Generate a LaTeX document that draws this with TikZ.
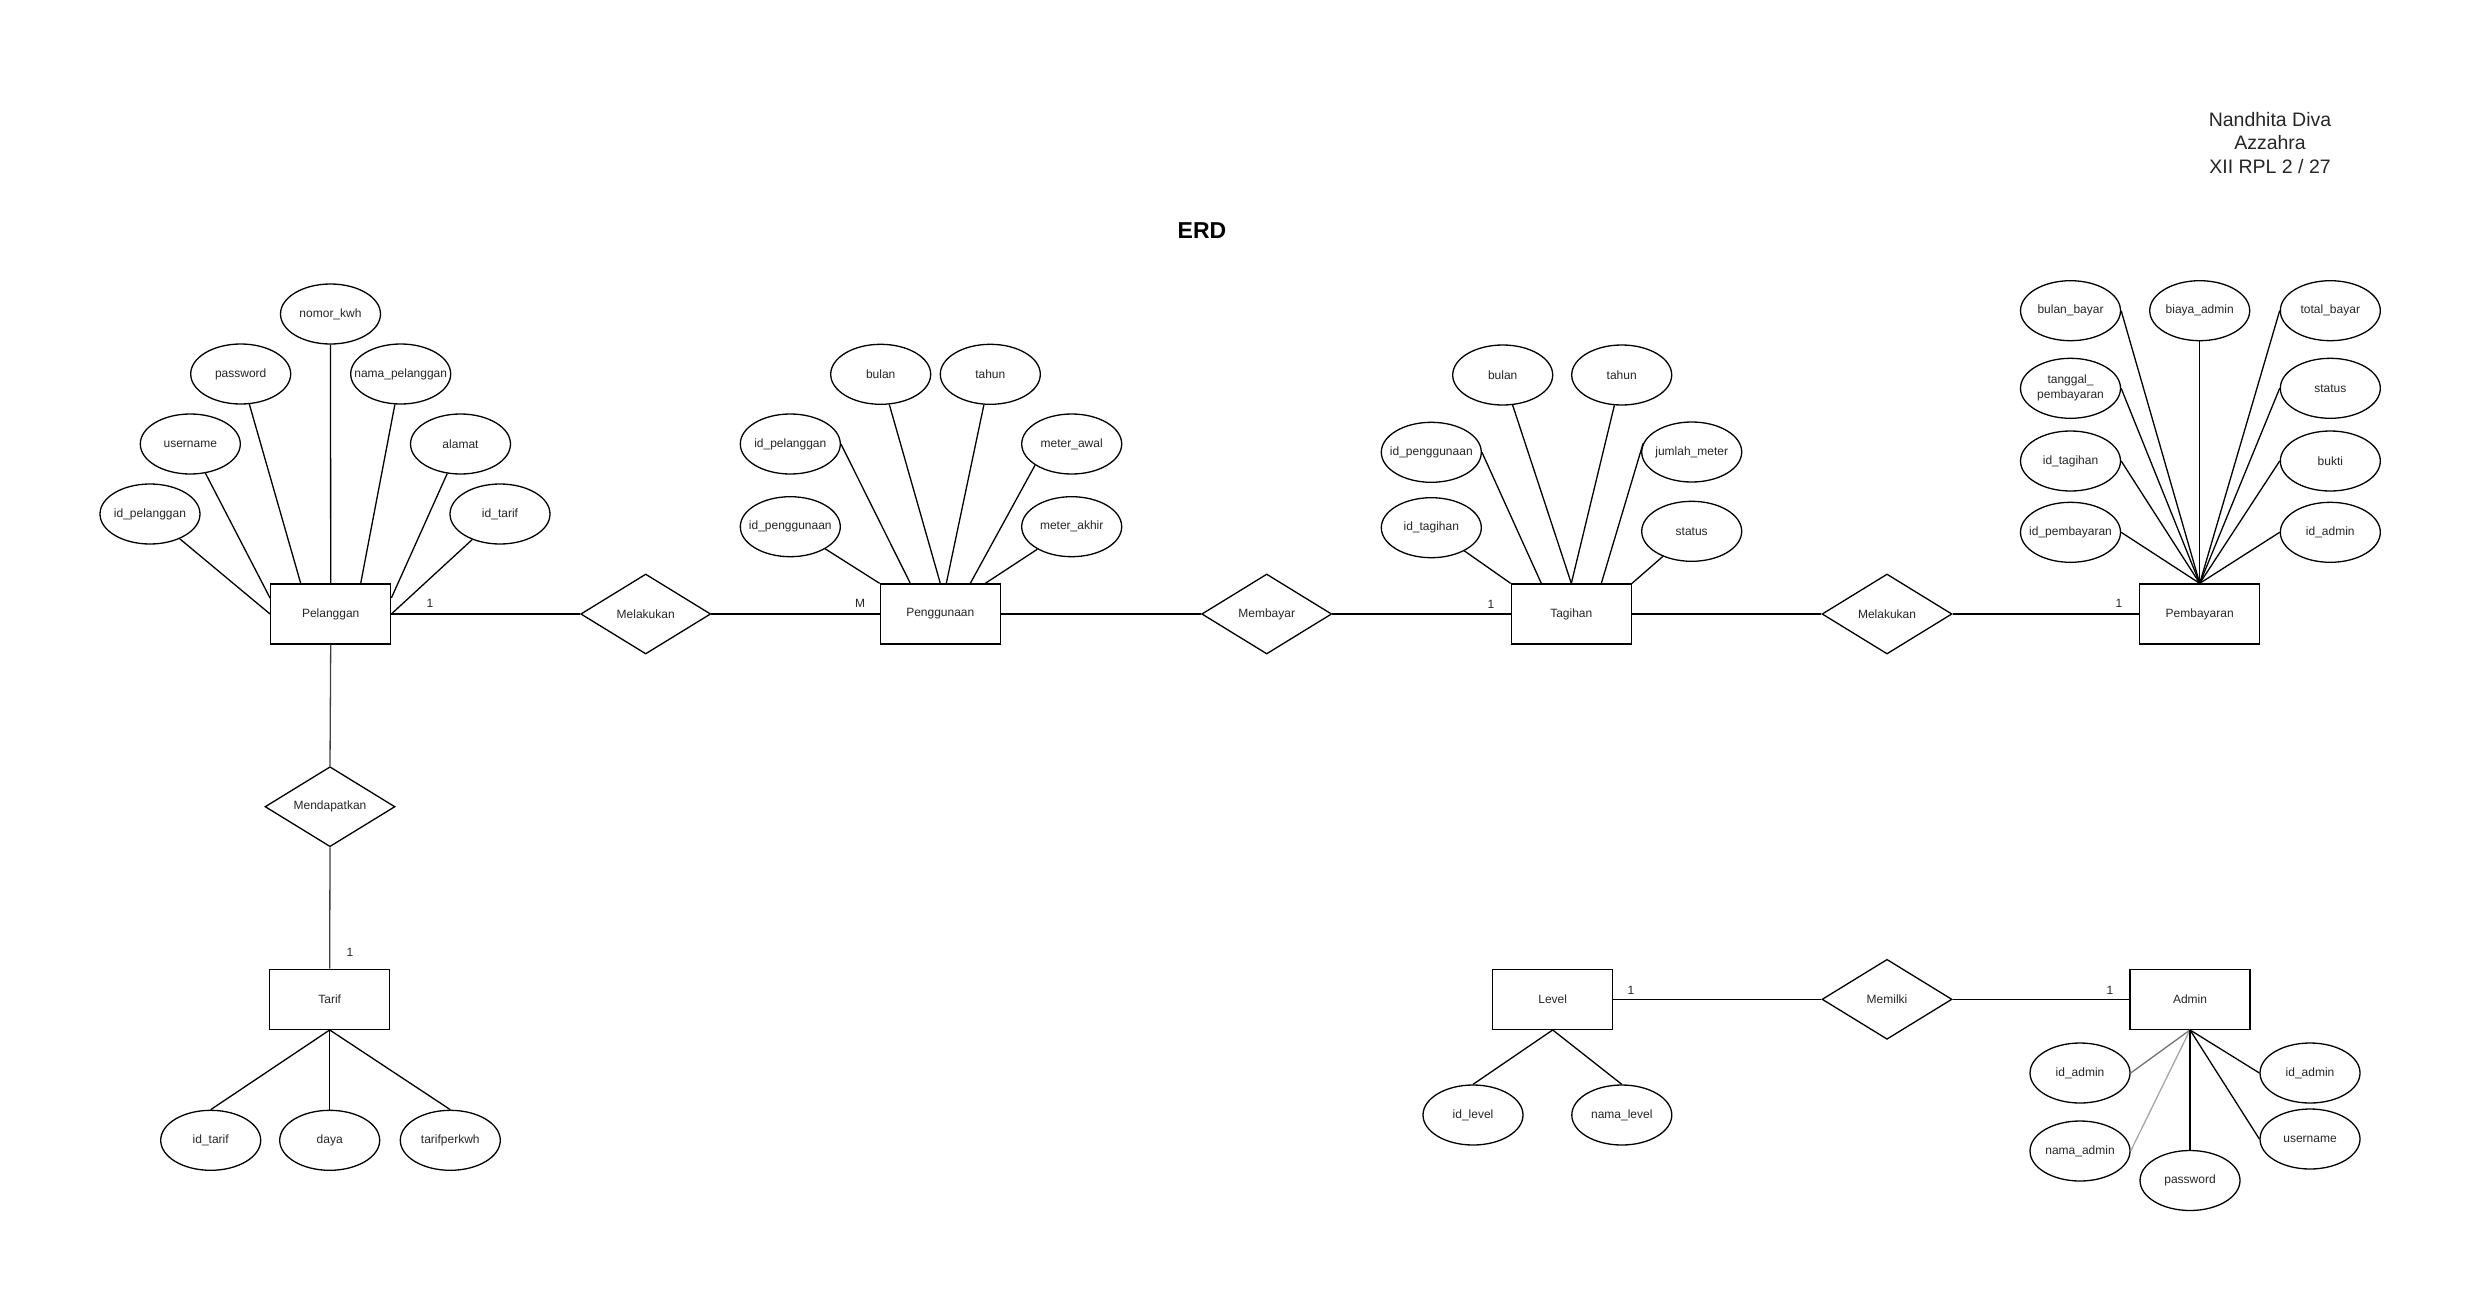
\documentclass[tikz,border=0pt]{standalone}
\usepackage{fontspec}
\setmainfont{Liberation Sans}
\usetikzlibrary{shapes.geometric}
\newcommand\zb[1]{\makebox[0pt]{#1}}
\begin{document}
\begin{tikzpicture}[x=1pt,y=-1pt,
  every node/.style={font=\fontsize{12}{14.4}\selectfont, text=black!85},
  ent/.style={draw=black, rectangle, minimum width=120pt, minimum height=60pt, inner sep=0pt, line width=1.3pt},
  attr/.style={draw=black, ellipse, minimum width=100pt, minimum height=60pt, inner sep=0pt, line width=1.3pt},
  rel/.style={draw=black, diamond, minimum width=130pt, minimum height=80pt, inner sep=0pt, line width=1.3pt},
  ln/.style={line width=1.3pt, draw=black},
  lng/.style={line width=1.3pt, draw=black!75},
  card/.style={inner sep=0pt},
]
\fill[white] (0,0) rectangle (2491,1311);
\useasboundingbox (0,0) rectangle (2491,1311);

% titles
\node[font=\fontsize{23}{27}\selectfont\bfseries, text=black] (title) at (1202,231) {ERD};
\node[font=\fontsize{19.5}{23.5}\selectfont, align=center, text=black!85] (author) at (2270,143) {Nandhita Diva\\Azzahra\\XII RPL 2 / 27};

% entities
\node[ent] (pel) at (330.7,614) {Pelanggan};
\node[ent] (peng) at (940.3,614) {Penggunaan};
\node[ent] (tag) at (1571.3,614) {Tagihan};
\node[ent] (pemb) at (2199.7,614) {Pembayaran};
\node[ent] (tarif) at (329.7,999.3) {Tarif};
\node[ent] (level) at (1552.7,999.3) {Level};
\node[ent] (admin) at (2190,999.3) {Admin};

% relations
\node[rel] (mel1) at (645.7,614) {\zb{Melakukan}};
\node[rel] (memb) at (1266.7,614) {\zb{Membayar}};
\node[rel] (mel2) at (1887,614) {\zb{Melakukan}};
\node[rel] (mend) at (330,806.7) {\zb{Mendapatkan}};
\node[rel] (memi) at (1887,999.3) {\zb{Memilki}};

% Pelanggan attributes
\node[attr] (p1) at (150,514) {\zb{id\_pelanggan}};
\node[attr] (p2) at (190.3,444) {\zb{username}};
\node[attr] (p3) at (240.7,374) {\zb{password}};
\node[attr] (p4) at (330.5,314) {\zb{nomor\_kwh}};
\node[attr] (p5) at (400.7,374) {\zb{nama\_pelanggan}};
\node[attr] (p6) at (460.5,444) {\zb{alamat}};
\node[attr] (p7) at (500,514) {\zb{id\_tarif}};

% Penggunaan attributes
\node[attr] (g1) at (790.3,526.7) {\zb{id\_penggunaan}};
\node[attr] (g2) at (790.3,444) {\zb{id\_pelanggan}};
\node[attr] (g3) at (880.7,374.3) {\zb{bulan}};
\node[attr] (g4) at (990.3,374.3) {\zb{tahun}};
\node[attr] (g5) at (1071.7,444) {\zb{meter\_awal}};
\node[attr] (g6) at (1071.7,526.7) {\zb{meter\_akhir}};

% Tagihan attributes
\node[attr] (t1) at (1431.3,527.7) {\zb{id\_tagihan}};
\node[attr] (t2) at (1431.3,452.3) {\zb{id\_penggunaan}};
\node[attr] (t3) at (1502.7,375) {\zb{bulan}};
\node[attr] (t4) at (1621.7,375) {\zb{tahun}};
\node[attr] (t5) at (1691.7,452) {\zb{jumlah\_meter}};
\node[attr] (t6) at (1691.7,531.3) {\zb{status}};

% Pembayaran attributes
\node[attr] (b1) at (2070.5,310.7) {\zb{bulan\_bayar}};
\node[attr] (b2) at (2070.5,388.3) {\zb{\begin{tabular}{@{}c@{}}tanggal\_\\pembayaran\end{tabular}}};
\node[attr] (b3) at (2070.5,461) {\zb{id\_tagihan}};
\node[attr] (b4) at (2070.5,532.3) {\zb{id\_pembayaran}};
\node[attr] (b5) at (2199.7,310.7) {\zb{biaya\_admin}};
\node[attr] (b6) at (2330.3,310.7) {\zb{total\_bayar}};
\node[attr] (b7) at (2330.3,388.3) {\zb{status}};
\node[attr] (b8) at (2330.3,461) {\zb{bukti}};
\node[attr] (b9) at (2330.3,532.3) {\zb{id\_admin}};

% Tarif attributes
\node[attr] (r1) at (210.7,1140.3) {\zb{id\_tarif}};
\node[attr] (r2) at (329.7,1140.3) {\zb{daya}};
\node[attr] (r3) at (450.3,1140.3) {\zb{tarifperkwh}};

% Level attributes
\node[attr] (l1) at (1473,1115) {\zb{id\_level}};
\node[attr] (l2) at (1621.8,1115) {\zb{nama\_level}};

% Admin attributes
\node[attr] (d1) at (2080,1073) {\zb{id\_admin}};
\node[attr] (d2) at (2080,1151) {\zb{nama\_admin}};
\node[attr] (d3) at (2190,1180.5) {\zb{password}};
\node[attr] (d4) at (2310,1073) {\zb{id\_admin}};
\node[attr] (d5) at (2310,1139) {\zb{username}};

% relationship lines
\draw[ln] (pel.east) -- (mel1.west);
\draw[ln] (mel1.east) -- (peng.west);
\draw[ln] (peng.east) -- (memb.west);
\draw[ln] (memb.east) -- (tag.west);
\draw[ln] (tag.east) -- (mel2.west);
\draw[ln] (mel2.east) -- (pemb.west);
\draw[lng] (pel.south) -- (mend.north);
\draw[lng] (mend.south) -- (tarif.north);
\draw[ln] (level.east) -- (memi.west);
\draw[ln] (memi.east) -- (admin.west);

% cardinalities
\node[card] (c1) at (430,603) {1};
\node[card] (c2) at (860,603) {M};
\node[card] (c3) at (1491,604) {1};
\node[card] (c4) at (2119,603) {1};
\node[card] (c5) at (350,952) {1};
\node[card] (c6) at (1631,990.7) {1};
\node[card] (c7) at (2110,990.7) {1};

% Pelanggan attribute lines
\draw[ln] (p1) -- (pel.west);
\draw[ln] (p2) -- ([yshift=16pt]pel.west);
\draw[ln] (p3) -- ([xshift=-30pt]pel.north);
\draw[ln] (p4.south) -- (pel.north);
\draw[ln] (p5) -- ([xshift=30pt]pel.north);
\draw[ln] (p6) -- ([yshift=16pt]pel.east);
\draw[ln] (p7) -- (pel.east);

% Penggunaan attribute lines
\draw[ln] (g1) -- (peng.north west);
\draw[ln] (g2.east) -- ([xshift=-30pt]peng.north);
\draw[ln] (g3) -- (peng.north);
\draw[ln] (g4) -- ([xshift=6pt]peng.north);
\draw[ln] (g5.210) -- ([xshift=30pt]peng.north);
\draw[ln] (g6) -- ([xshift=45pt]peng.north);

% Tagihan attribute lines
\draw[ln] (t1) -- (tag.north west);
\draw[ln] (t2.east) -- ([xshift=-30pt]tag.north);
\draw[ln] (t3) -- (tag.north);
\draw[ln] (t4) -- (tag.north);
\draw[ln] (t5.170) -- ([xshift=30pt]tag.north);
\draw[ln] (t6) -- (tag.north east);

% Pembayaran attribute lines
\foreach \n in {b1,b2,b3,b4} \draw[ln] (\n.east) -- (pemb.north);
\draw[ln] (b5.south) -- (pemb.north);
\foreach \n in {b6,b7,b8,b9} \draw[ln] (\n.west) -- (pemb.north);

% Tarif attribute lines
\foreach \n in {r1,r2,r3} \draw[ln] (tarif.south) -- (\n.north);

% Level attribute lines
\foreach \n in {l1,l2} \draw[ln] (level.south) -- (\n.north);

% Admin attribute lines
\draw[line width=1.3pt, draw=black!55] (admin.south) -- (d1.east);
\draw[line width=1.3pt, draw=black!35] (admin.south) -- (d2.east);
\draw[ln] (admin.south) -- (d3.north);
\draw[ln] (admin.south) -- (d4.west);
\draw[ln] (admin.south) -- (d5.west);
\end{tikzpicture}
\end{document}
